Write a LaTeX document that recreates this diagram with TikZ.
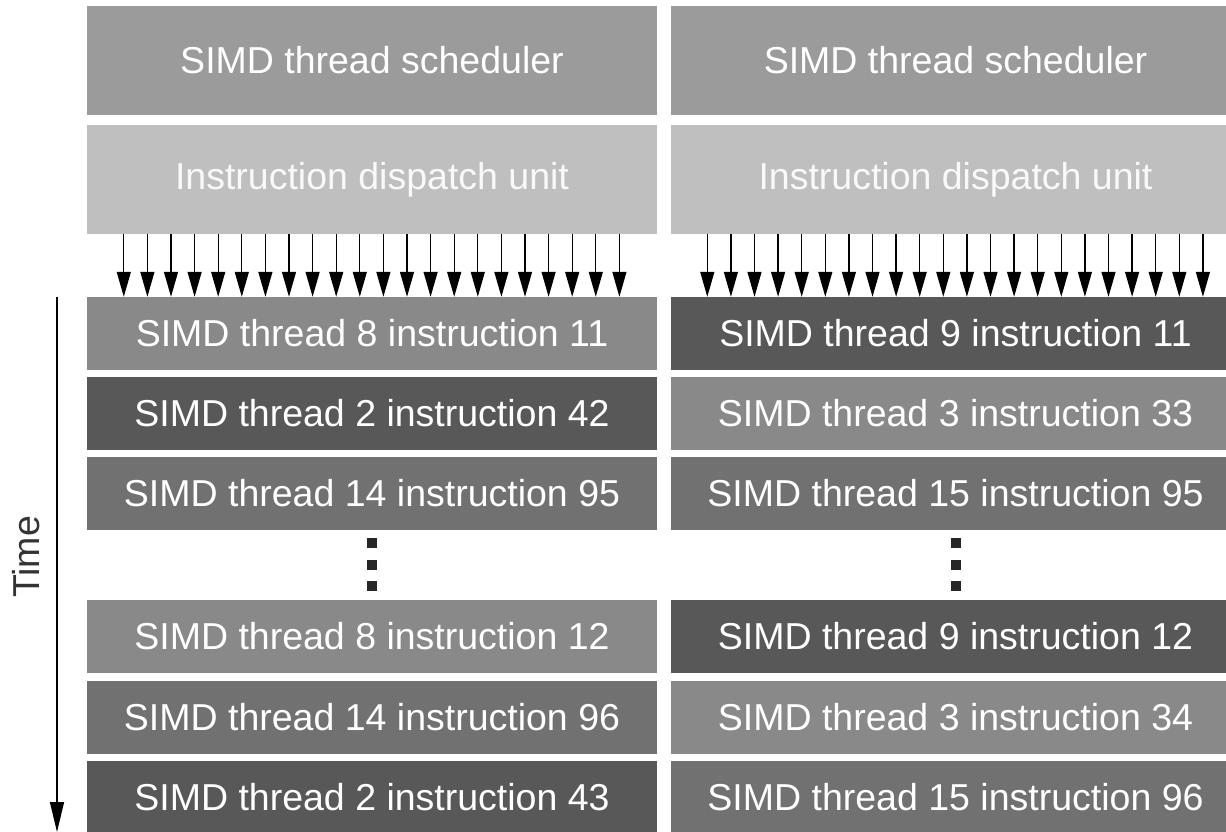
\documentclass[tikz,border=0pt]{standalone}
\usepackage{fontspec}
\setmainfont{Liberation Sans}
\usetikzlibrary{arrows.meta}

\definecolor{schedgray}{RGB}{155,155,155}
\definecolor{dispgray}{RGB}{191,191,192}
\definecolor{lightrow}{RGB}{137,137,137}
\definecolor{midrow}{RGB}{113,113,113}
\definecolor{darkrow}{RGB}{88,88,88}

\tikzset{
  unit/.style={fill=#1, text=white, minimum width=570pt, inner sep=0pt,
    font=\fontsize{37.5}{42}\selectfont},
  slot/.style={unit=#1, minimum height=73pt},
  feed/.style={line width=1.3pt, -{Triangle[width=14pt,length=25pt]}},
  dot/.style={fill=black!85, minimum size=10pt, inner sep=0pt}
}

\begin{document}
\begin{tikzpicture}[x=1pt,y=-1pt]
\useasboundingbox (0,0) rectangle (1226,832);
% scheduler and dispatch units
\node[unit=schedgray, minimum height=109pt] (schedL) at (372,60.5) {SIMD thread scheduler};
\node[unit=schedgray, minimum height=109pt] (schedR) at (955.5,60.5) {SIMD thread scheduler};
\node[unit=dispgray, minimum height=109pt, text=white!95!gray] (dispL) at (372,179.5) {Instruction dispatch unit};
\node[unit=dispgray, minimum height=109pt, text=white!95!gray] (dispR) at (955.5,179.5) {Instruction dispatch unit};
% issued instructions
\foreach \r/\y/\cl/\tl/\cr/\tr in {
  1/333.5/lightrow/{8 instruction 11}/darkrow/{9 instruction 11},
  2/413/darkrow/{2 instruction 42}/lightrow/{3 instruction 33},
  3/493.5/midrow/{14 instruction 95}/midrow/{15 instruction 95},
  4/636.5/lightrow/{8 instruction 12}/darkrow/{9 instruction 12},
  5/717/midrow/{14 instruction 96}/lightrow/{3 instruction 34},
  6/797.5/darkrow/{2 instruction 43}/midrow/{15 instruction 96}}{
  \node[slot=\cl] (rowL\r) at (372,\y) {SIMD thread \tl};
  \node[slot=\cr] (rowR\r) at (955.5,\y) {SIMD thread \tr};
}
% dispatch lanes
\foreach \c in {L,R}
  \foreach \i in {0,...,21}
    \draw[feed] ([xshift={37pt+\i*23.6pt}]disp\c.south west) -- ([xshift={37pt+\i*23.6pt}]row\c1.north west);
% elided rows
\foreach \y [count=\k] in {543,564.5,586}{
  \node[dot] (dotL\k) at (372,\y) {};
  \node[dot] (dotR\k) at (956,\y) {};
}
% time axis
\coordinate (timetop) at (57,297);
\coordinate (timebot) at (57,832);
\draw[line width=1.3pt, -{Triangle[width=14pt,length=30pt]}] (timetop) -- (timebot);
\node[rotate=90, font=\fontsize{37.5}{42}\selectfont, text=black!80] (time) at (26,557) {Time};
\end{tikzpicture}
\end{document}
